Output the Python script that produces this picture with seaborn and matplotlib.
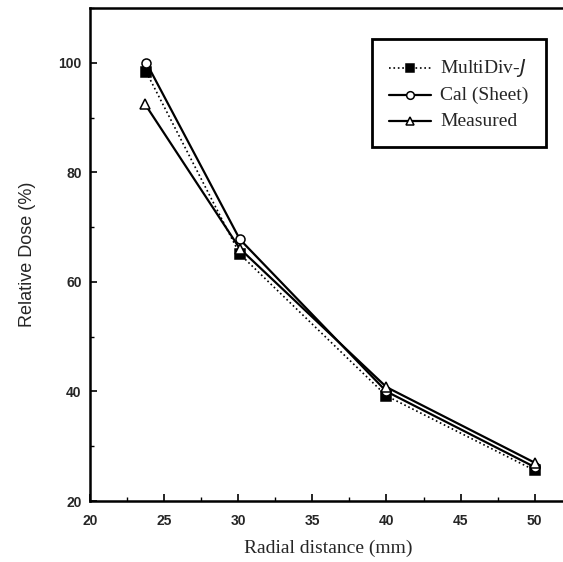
import numpy as np
import pandas as pd
import matplotlib
matplotlib.use("Agg")
import matplotlib.pyplot as plt
import seaborn as sns
from matplotlib.ticker import MultipleLocator

x_multidiv = [23.8, 30.1, 40.0, 50.0]
y_multidiv = [98.3, 65.1, 39.2, 25.6]
x_cal = [23.8, 30.1, 40.0, 50.0]
y_cal = [100.0, 67.8, 40.0, 26.2]
x_meas = [23.7, 30.1, 40.0, 50.0]
y_meas = [92.5, 66.1, 40.8, 27.0]
x_ticks = [20, 25, 30, 35, 40, 45, 50]
y_ticks = [20, 40, 60, 80, 100]

sns.set_style("ticks")
fig = plt.figure(figsize=(5.63, 5.62), dpi=100)
ax = fig.add_axes([0.16, 0.1085, 0.845, 0.877])

series = [
    ("MultiDiv-J", x_multidiv, y_multidiv, ":", "s", "black"),
    ("Cal (Sheet)", x_cal, y_cal, "-", "o", "white"),
    ("Measured", x_meas, y_meas, "-", "^", "white"),
]
for name, xs, ys, ls, mk, fc in series:
    df = pd.DataFrame({"x": xs, "y": ys})
    sns.lineplot(data=df, x="x", y="y", ax=ax, color="black", linestyle=ls,
                 linewidth=1.6 if ls == "-" else 1.2, marker=mk, markersize=6.5,
                 markerfacecolor=fc, markeredgecolor="black", markeredgewidth=1.1,
                 label=name)

ax.set_xlim(20, 52.1)
ax.set_ylim(20, 110)
ax.set_xticks(x_ticks)
ax.set_yticks(y_ticks)
ax.xaxis.set_minor_locator(MultipleLocator(2.5))
ax.yaxis.set_minor_locator(MultipleLocator(10))
ax.tick_params(axis="both", which="both", direction="in", color="black")
ax.tick_params(which="major", length=5, width=1.2)
ax.tick_params(which="minor", length=3, width=1.0)
for lab in ax.get_xticklabels() + ax.get_yticklabels():
    lab.set_fontfamily("Liberation Sans")
    lab.set_fontweight("bold")
    lab.set_fontsize(10)
ax.tick_params(axis="x", pad=9)
ax.tick_params(axis="y", pad=6)

for s in ["left", "bottom", "top"]:
    ax.spines[s].set_linewidth(1.8)
    ax.spines[s].set_color("black")
ax.spines["right"].set_visible(False)

ax.set_xlabel("Radial distance (mm)", fontfamily="Liberation Serif", fontsize=14, labelpad=9)
ax.set_ylabel("Relative Dose (%)", fontfamily="Liberation Sans", fontsize=13, labelpad=16)

leg = ax.legend(loc="upper right", bbox_to_anchor=(0.9585, 0.937), frameon=True, fancybox=False,
                edgecolor="black", framealpha=1, borderpad=1.25, labelspacing=0.6,
                handlelength=3.0, handletextpad=0.7, borderaxespad=0, markerscale=0.85)
leg.get_frame().set_linewidth(2.0)
for i, t in enumerate(leg.get_texts()):
    t.set_fontfamily("Liberation Serif")
    t.set_fontsize(14)
    if i == 0:
        t.set_text("MultiDiv-$J$")

fig.savefig("out.png", dpi=100)
